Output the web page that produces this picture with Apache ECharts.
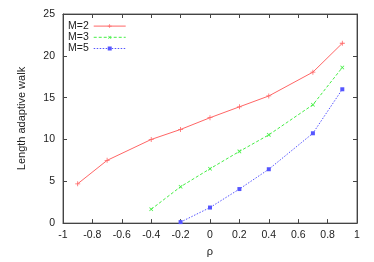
<!DOCTYPE html>
<html><head><meta charset="utf-8">
<script src="https://cdn.jsdelivr.net/npm/echarts@6/dist/echarts.min.js"></script>
<style>html,body{margin:0;padding:0;background:#fff}#c{width:374px;height:262px}</style>
</head><body><div id="c"></div>
<script>
const rhoM2 = [-0.9, -0.7, -0.4, -0.2, 0, 0.2, 0.4, 0.7, 0.9];
const valM2 = [4.7, 7.5, 10.0, 11.2, 12.6, 13.9, 15.2, 18.05, 21.5];
const rhoM3 = [-0.4, -0.2, 0, 0.2, 0.4, 0.7, 0.9];
const valM3 = [1.65, 4.35, 6.5, 8.57, 10.55, 14.15, 18.6];
const rhoM5 = [-0.2, 0, 0.2, 0.4, 0.7, 0.9];
const valM5 = [0.12, 1.86, 4.07, 6.44, 10.74, 16.0];
const seriesNames = ['M=2', 'M=3', 'M=5'];
const xTitle = 'ρ';
const yTitle = 'Length adaptive walk';

const font = 'Liberation Sans, Arial, sans-serif';
const plus = 'path://M0,4.2L10,4.2L10,5.8L0,5.8ZM4.2,0L5.8,0L5.8,10L4.2,10Z';
function pairs(xs, ys){ return xs.map((x,i)=>[x, ys[i]]); }
const chart = echarts.init(document.getElementById('c'), null, {renderer:'canvas'});
const axisLine = {show:true, onZero:false, lineStyle:{color:'#444', width:1}};
const ticks = {show:true, inside:true, length:4, lineStyle:{color:'#444', width:1}};
const cR = '#ff6666', cG = '#44ee44', cB = '#5555ff';
chart.setOption({
  animation:false,
  backgroundColor:'#fff',
  textStyle:{fontFamily:font},
  grid:{left:63, right:17, top:14, bottom:37.5, show:true, borderColor:'#666', borderWidth:1},
  legend:{
    orient:'vertical', left:68, top:20.5, align:'right', padding:0,
    itemWidth:32, itemHeight:5, itemGap:0,
    lineStyle:{width:1},
    textStyle:{fontSize:10.5, color:'#222', fontFamily:font, lineHeight:11.2, padding:[0,0,0,0]},
    data:seriesNames
  },
  xAxis:[{
    type:'value', min:-1, max:1, interval:0.2,
    name:xTitle, nameLocation:'middle', nameGap:21,
    nameTextStyle:{fontSize:11, color:'#222', fontFamily:font},
    axisLine:axisLine, axisTick:ticks, splitLine:{show:false},
    axisLabel:{fontSize:10.5, color:'#222', margin:7, fontFamily:font,
      formatter:v=>String(Math.round(v*10)/10)}
  },{
    type:'value', min:-1, max:1, interval:0.2, position:'top',
    axisLine:axisLine, axisTick:ticks, axisLabel:{show:false}, splitLine:{show:false}
  }],
  yAxis:[{
    type:'value', min:0, max:25, interval:5,
    name:yTitle, nameLocation:'middle', nameGap:36,
    nameTextStyle:{fontSize:11, color:'#222', fontFamily:font},
    axisLine:axisLine, axisTick:ticks, splitLine:{show:false},
    axisLabel:{fontSize:10.5, color:'#222', margin:8, fontFamily:font}
  },{
    type:'value', min:0, max:25, interval:5, position:'right',
    axisLine:axisLine, axisTick:ticks, axisLabel:{show:false}, splitLine:{show:false}
  }],
  series:[
    {name:seriesNames[0], type:'line', data:pairs(rhoM2,valM2), color:cR,
     symbol:plus, symbolSize:5, lineStyle:{width:1, color:cR}, itemStyle:{color:cR}},
    {name:seriesNames[1], type:'line', data:pairs(rhoM3,valM3), color:cG,
     symbol:plus, symbolRotate:45, symbolSize:5, lineStyle:{width:1, type:[3,2], color:cG}, itemStyle:{color:cG}},
    {name:seriesNames[2], type:'line', data:pairs(rhoM5,valM5), color:cB,
     symbol:'rect', symbolSize:4, lineStyle:{width:1, type:[1.5,1.5], color:cB}, itemStyle:{color:cB}}
  ]
});
</script></body></html>
